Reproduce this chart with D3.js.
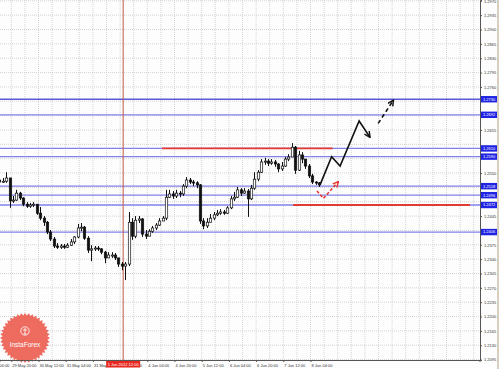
<!DOCTYPE html>
<html>
<head>
<meta charset="utf-8">
<script src="https://cdn.jsdelivr.net/npm/d3@7"></script>
<style>
  html, body { margin: 0; padding: 0; background: #fff; }
  svg { display: block; font-family: "Liberation Sans", Arial, sans-serif; }
</style>
</head>
<body>
<svg id="chart" width="499" height="369"></svg>
<script>
// EUR/USD candles, one per 2 hours, from 29 May 2012
const opens = [
  1.2533,1.2528,1.2530,1.2538,1.2482,1.2484,1.2501,1.2489,1.2474,1.2469,
  1.2472,1.2474,1.2452,1.2440,1.2430,1.2406,1.2389,1.2372,1.2369,1.2372,
  1.2369,1.2374,1.2382,1.2394,1.2416,1.2418,1.2391,1.2362,1.2365,1.2367,
  1.2365,1.2357,1.2343,1.2350,1.2350,1.2343,1.2328,1.2323,1.2328,1.2430,
  1.2396,1.2435,1.2438,1.2401,1.2396,1.2408,1.2416,1.2423,1.2433,1.2440,
  1.2491,1.2499,1.2494,1.2501,1.2499,1.2518,1.2533,1.2528,1.2526,1.2521,
  1.2433,1.2421,1.2430,1.2440,1.2448,1.2452,1.2455,1.2452,1.2465,1.2487,
  1.2491,1.2509,1.2501,1.2506,1.2487,1.2513,1.2535,1.2552,1.2577,1.2579,
  1.2574,1.2577,1.2572,1.2560,1.2567,1.2584,1.2589,1.2613,1.2557,1.2594,
  1.2584,1.2567,1.2543,1.2528,1.2526
];
const highs = [
  1.2538,1.2538,1.2552,1.2535,1.2494,1.2509,1.2504,1.2491,1.2479,1.2477,
  1.2479,1.2474,1.2467,1.2445,1.2433,1.2411,1.2394,1.2379,1.2377,1.2377,
  1.2379,1.2389,1.2396,1.2426,1.2428,1.2421,1.2396,1.2374,1.2372,1.2372,
  1.2367,1.2360,1.2357,1.2357,1.2355,1.2343,1.2333,1.2333,1.2455,1.2440,
  1.2445,1.2445,1.2440,1.2411,1.2413,1.2421,1.2428,1.2440,1.2445,1.2509,
  1.2509,1.2506,1.2509,1.2506,1.2523,1.2540,1.2538,1.2533,1.2530,1.2523,
  1.2440,1.2440,1.2450,1.2455,1.2460,1.2462,1.2460,1.2469,1.2494,1.2504,
  1.2516,1.2513,1.2513,1.2511,1.2521,1.2552,1.2557,1.2584,1.2587,1.2584,
  1.2584,1.2582,1.2574,1.2577,1.2589,1.2596,1.2623,1.2616,1.2604,1.2601,
  1.2582,1.2572,1.2548,1.2530,1.2528
];
const lows = [
  1.2523,1.2526,1.2526,1.2465,1.2477,1.2482,1.2484,1.2469,1.2465,1.2465,
  1.2467,1.2448,1.2435,1.2421,1.2401,1.2384,1.2367,1.2365,1.2365,1.2365,
  1.2367,1.2372,1.2377,1.2391,1.2408,1.2387,1.2355,1.2335,1.2360,1.2360,
  1.2352,1.2330,1.2343,1.2343,1.2338,1.2321,1.2313,1.2289,1.2323,1.2387,
  1.2391,1.2428,1.2394,1.2389,1.2399,1.2404,1.2411,1.2421,1.2433,1.2435,
  1.2489,1.2487,1.2489,1.2491,1.2494,1.2513,1.2523,1.2518,1.2513,1.2426,
  1.2413,1.2416,1.2430,1.2435,1.2445,1.2448,1.2448,1.2450,1.2462,1.2482,
  1.2489,1.2494,1.2499,1.2443,1.2484,1.2509,1.2530,1.2550,1.2570,1.2567,
  1.2570,1.2565,1.2552,1.2555,1.2565,1.2579,1.2591,1.2548,1.2555,1.2574,
  1.2560,1.2538,1.2523,1.2521,1.2516
];
const closes = [
  1.2528,1.2530,1.2538,1.2482,1.2484,1.2501,1.2489,1.2474,1.2469,1.2472,
  1.2474,1.2452,1.2440,1.2430,1.2406,1.2389,1.2372,1.2369,1.2372,1.2369,
  1.2374,1.2382,1.2394,1.2416,1.2418,1.2391,1.2362,1.2365,1.2367,1.2365,
  1.2357,1.2343,1.2350,1.2350,1.2343,1.2328,1.2323,1.2328,1.2430,1.2396,
  1.2435,1.2438,1.2401,1.2396,1.2408,1.2416,1.2423,1.2433,1.2440,1.2491,
  1.2499,1.2494,1.2501,1.2499,1.2518,1.2533,1.2528,1.2526,1.2521,1.2433,
  1.2421,1.2430,1.2440,1.2448,1.2452,1.2455,1.2452,1.2465,1.2487,1.2491,
  1.2509,1.2501,1.2506,1.2487,1.2513,1.2535,1.2552,1.2577,1.2579,1.2574,
  1.2577,1.2572,1.2560,1.2567,1.2584,1.2589,1.2613,1.2557,1.2594,1.2584,
  1.2567,1.2543,1.2528,1.2526,1.2521
];

// price scale labels
const priceTicks = [
  1.2970,1.2935,1.2900,1.2865,1.2830,1.2795,1.2760,1.2725,1.2690,1.2655,
  1.2620,1.2585,1.2550,1.2515,1.2480,1.2445,1.2410,1.2375,1.2340,1.2305,
  1.2270,1.2235,1.2200,1.2165,1.2130,1.2095
];
// time scale labels (bar index -> label)
const timeTickIdx = [-4.5,3.5,11.5,19.5,27.5,35.5,43.5,51.5,59.5,67.5,75.5,83.5,91.5];
const timeLabels = [
  "29 May 04:00","29 May 20:00","30 May 12:00","31 May 04:00","31 May 20:00",
  "1 Jun 12:00","4 Jun 04:00","4 Jun 20:00","5 Jun 12:00","6 Jun 04:00",
  "6 Jun 20:00","7 Jun 12:00","8 Jun 04:00"
];

// horizontal levels (blue) and drawn red segments
const levels = [1.2730, 1.2692, 1.2610, 1.2590, 1.2518, 1.2496, 1.2472, 1.2406];
const redFrom = [47.8, 86.4];
const redTo = [98.0, 138.4];
const redPrice = [1.2610, 1.2472];

// forecast arrows: [bar index, price]
const forecastMain = [[94.3, 1.2521], [97.7, 1.2590], [100.2, 1.2567], [105.8, 1.2677], [109.0, 1.2637]];
const forecastNext = [[111.4, 1.2671], [115.9, 1.2728]];
const forecastAlt = [[93.4, 1.2506], [95.3, 1.2488], [99.7, 1.2529]];

// vertical marker line
const cursorIdx = 36.4;
const cursorLabel = "1 Jun 2012 12:00";

const plotW = 480, plotH = 360;

const svg = d3.select("#chart");

const x = d3.scaleLinear().domain([0, 141.2]).range([-0.6, 479.5]);
const y = d3.scaleLinear().domain([1.2972, 1.2094]).range([0, plotH]);

svg.append("rect").attr("width", 499).attr("height", 369).attr("fill", "#fdfdfd");

svg.append("defs").append("clipPath").attr("id", "plot")
  .append("rect").attr("width", plotW).attr("height", plotH);

const defs = svg.select("defs");
[["arrBlack", "#111"], ["arrRed", "#e8302a"]].forEach(([id, col]) => {
  defs.append("marker")
    .attr("id", id)
    .attr("viewBox", "0 0 10 10")
    .attr("refX", 9).attr("refY", 5)
    .attr("markerWidth", 4.5).attr("markerHeight", 4.5)
    .attr("orient", "auto")
    .append("path")
    .attr("d", "M1,1 L9,5 L1,9")
    .attr("fill", "none")
    .attr("stroke", col)
    .attr("stroke-width", 2);
});

const plot = svg.append("g").attr("clip-path", "url(#plot)");

// grid
const vGrid = d3.range(-0.5, 142, 4);
plot.append("g")
  .selectAll("line")
  .data(vGrid)
  .join("line")
  .attr("x1", d => x(d)).attr("x2", d => x(d))
  .attr("y1", 0).attr("y2", plotH)
  .attr("stroke", "#d4d4d4")
  .attr("stroke-dasharray", "1,1");
plot.append("g")
  .selectAll("line")
  .data(priceTicks)
  .join("line")
  .attr("x1", 0).attr("x2", plotW)
  .attr("y1", d => y(d)).attr("y2", d => y(d))
  .attr("stroke", "#d4d4d4")
  .attr("stroke-dasharray", "1,1");

// blue levels
plot.append("g")
  .selectAll("line")
  .data(levels)
  .join("line")
  .attr("x1", 0).attr("x2", plotW)
  .attr("y1", d => y(d)).attr("y2", d => y(d))
  .attr("stroke", (d, i) => i === 0 ? "#5a5ad6" : "#8080ea")
  .attr("stroke-width", 1.3);

// red segments
plot.append("g")
  .selectAll("line")
  .data(redPrice)
  .join("line")
  .attr("x1", (d, i) => x(redFrom[i])).attr("x2", (d, i) => x(redTo[i]))
  .attr("y1", d => y(d)).attr("y2", d => y(d))
  .attr("stroke", "#e23a32")
  .attr("stroke-width", 1.8);

// cursor line
plot.append("line")
  .attr("x1", x(cursorIdx)).attr("x2", x(cursorIdx))
  .attr("y1", 0).attr("y2", plotH)
  .attr("stroke", "#c45a46")
  .attr("stroke-width", 1);

// candles
const candles = closes.map((c, i) => ({ i, o: opens[i], h: highs[i], l: lows[i], c }));
const cg = plot.append("g");
cg.selectAll("line")
  .data(candles)
  .join("line")
  .attr("x1", d => Math.round(x(d.i)) + 0.5).attr("x2", d => Math.round(x(d.i)) + 0.5)
  .attr("y1", d => y(Math.max(d.h, d.o, d.c)))
  .attr("y2", d => y(Math.min(d.l, d.o, d.c)))
  .attr("stroke", "#111")
  .attr("stroke-width", 1);
cg.selectAll("rect")
  .data(candles)
  .join("rect")
  .attr("x", d => Math.round(x(d.i)) - 0.7)
  .attr("width", 2.4)
  .attr("y", d => y(Math.max(d.o, d.c)))
  .attr("height", d => Math.max(1, y(Math.min(d.o, d.c)) - y(Math.max(d.o, d.c))))
  .attr("fill", d => d.c >= d.o ? "#fff" : "#111")
  .attr("stroke", "#111")
  .attr("stroke-width", 0.7);

// forecast arrows
const line = d3.line().x(d => x(d[0])).y(d => y(d[1]));
plot.append("path")
  .attr("d", line(forecastMain))
  .attr("fill", "none").attr("stroke", "#111").attr("stroke-width", 1.6)
  .attr("marker-end", "url(#arrBlack)");
plot.append("path")
  .attr("d", line(forecastNext))
  .attr("fill", "none").attr("stroke", "#111").attr("stroke-width", 1.6)
  .attr("stroke-dasharray", "4,3")
  .attr("marker-end", "url(#arrBlack)");
plot.append("path")
  .attr("d", line(forecastAlt))
  .attr("fill", "none").attr("stroke", "#e8302a").attr("stroke-width", 1.5)
  .attr("stroke-dasharray", "3,2")
  .attr("marker-end", "url(#arrRed)");

// InstaForex badge
const logo = svg.append("g").attr("transform", "translate(25,338)");
const spikes = d3.range(0, 80).map(k => [k * Math.PI * 2 / 80, k % 2 ? 22.5 : 25]);
logo.append("path")
  .attr("d", d3.lineRadial().curve(d3.curveLinearClosed)(spikes))
  .attr("fill", "#ec5b4f")
  .attr("opacity", 0.9);
logo.append("circle").attr("cy", -7).attr("r", 4.2)
  .attr("fill", "none").attr("stroke", "#fff").attr("stroke-width", 0.8);
logo.append("path")
  .attr("d", "M0,-10 L0,-4 M-2,-8 L2,-8 M-1.5,-4 L1.5,-4")
  .attr("stroke", "#fff").attr("stroke-width", 0.8);
logo.append("text")
  .attr("y", 9)
  .attr("text-anchor", "middle")
  .attr("fill", "#fff")
  .attr("font-size", 6.5)
  .text("InstaForex");

// right price axis; labels sitting under a level box are hidden like in the terminal
const underBox = v => levels.some(l => Math.abs(y(l) - y(v)) < 6);
const yAxis = svg.append("g")
  .attr("transform", `translate(${plotW},0)`)
  .call(d3.axisRight(y).tickValues(priceTicks.filter(v => !underBox(v)))
    .tickSize(2).tickPadding(2).tickFormat(d3.format(".4f")));
yAxis.select(".domain").attr("stroke", "#555");
yAxis.selectAll(".tick line").attr("stroke", "#555");
yAxis.selectAll("text").attr("font-size", 4).attr("fill", "#333").attr("font-family", null);

// level price boxes
const boxes = svg.append("g").selectAll("g").data(levels).join("g")
  .attr("transform", d => `translate(${plotW + 1},${y(d)})`);
boxes.append("rect")
  .attr("y", -3.2).attr("width", 16).attr("height", 6.4)
  .attr("fill", "#1f24e4");
boxes.append("text")
  .attr("x", 2).attr("dy", "0.35em")
  .attr("font-size", 4).attr("fill", "#fff")
  .text(d => d3.format(".4f")(d));

// bottom time axis
const xAxis = svg.append("g")
  .attr("transform", `translate(0,${plotH})`)
  .call(d3.axisBottom(x).tickValues(timeTickIdx).tickSize(2).tickPadding(2)
    .tickFormat((d, i) => timeLabels[i]));
xAxis.select(".domain").attr("stroke", "#555");
xAxis.selectAll(".tick line").attr("stroke", "#555");
xAxis.selectAll("text")
  .attr("font-size", 4).attr("fill", "#333").attr("font-family", null)
  .attr("text-anchor", "start").attr("dx", 0.5);

// cursor time box
const cb = svg.append("g").attr("transform", `translate(${x(cursorIdx)},${plotH + 1})`);
cb.append("rect").attr("x", -17).attr("width", 34).attr("height", 6.5).attr("fill", "#e8281f");
cb.append("text").attr("y", 4.8).attr("text-anchor", "middle")
  .attr("font-size", 4).attr("fill", "#fff").text(cursorLabel);

// right edge strip
svg.append("line").attr("x1", 498).attr("x2", 498).attr("y1", 0).attr("y2", 369)
  .attr("stroke", "#cdbfa8").attr("stroke-width", 1.5);
</script>
</body>
</html>
